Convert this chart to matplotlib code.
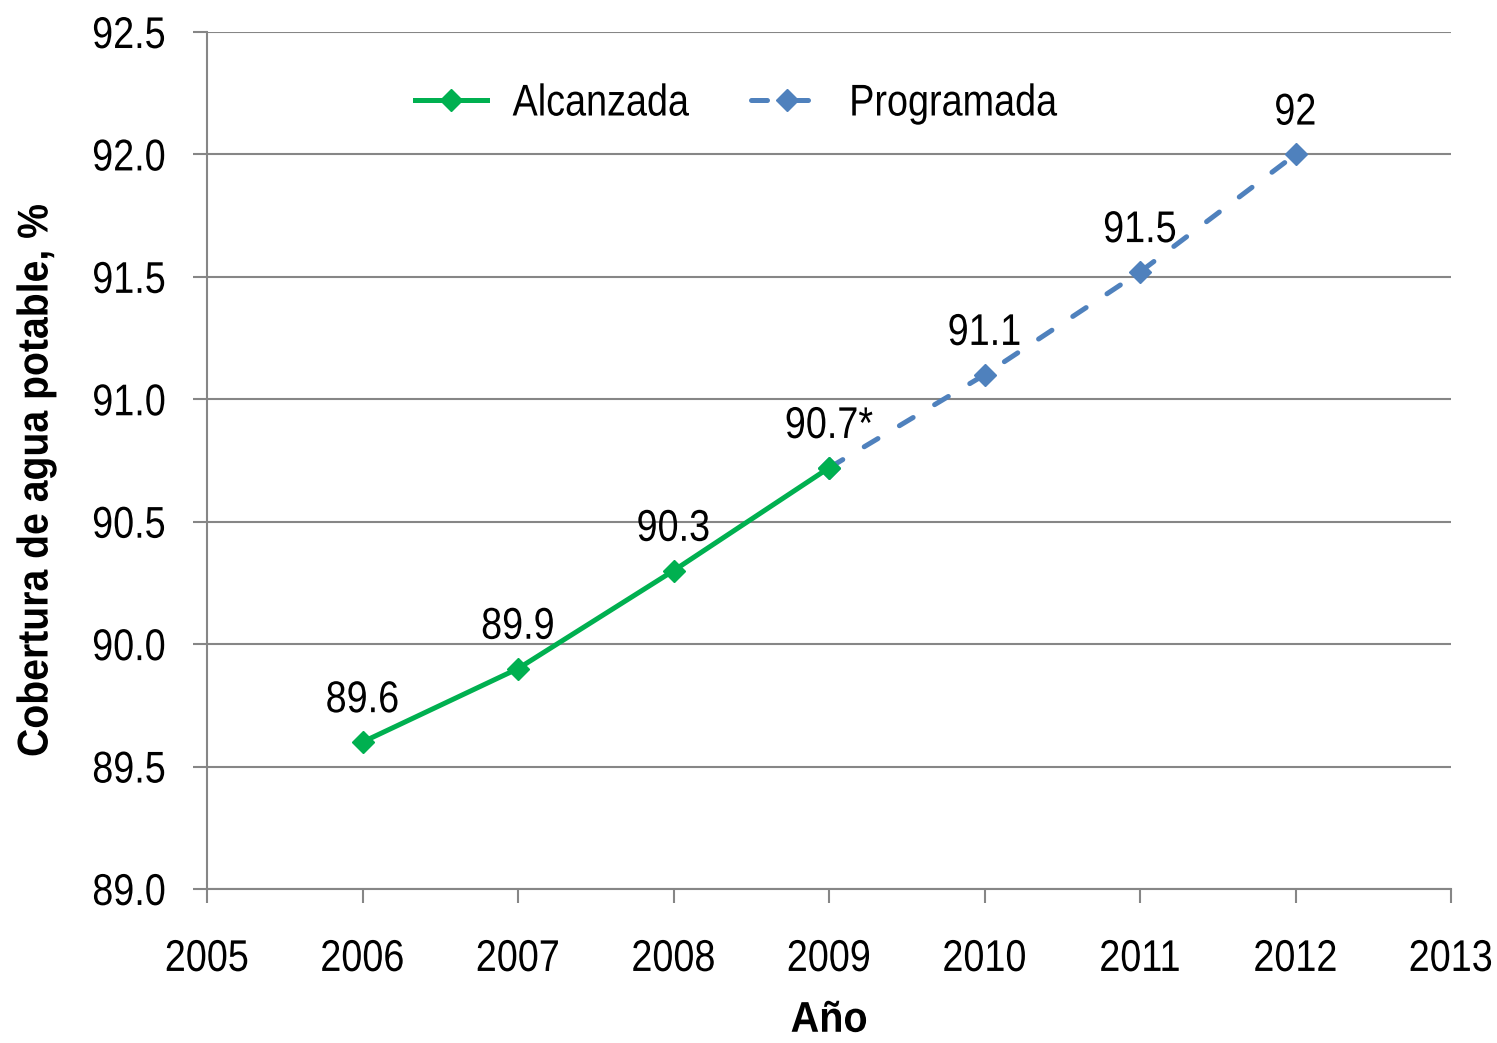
import matplotlib
matplotlib.use("Agg")
import matplotlib.pyplot as plt
import matplotlib.patheffects as pe
from matplotlib.transforms import Affine2D, ScaledTranslation

plt.rcParams['font.family'] = ['Liberation Sans', 'DejaVu Sans']

years_alc = [2006, 2007, 2008, 2009]
vals_alc = [89.6, 89.9, 90.3, 90.72]
labels_alc = ["89.6", "89.9", "90.3", "90.7*"]

years_prog = [2009, 2010, 2011, 2012]
vals_prog = [90.72, 91.1, 91.52, 92.0]
labels_prog = ["", "91.1", "91.5", "92"]

yticks = [89.0, 89.5, 90.0, 90.5, 91.0, 91.5, 92.0, 92.5]
xticks = list(range(2005, 2014))

green = "#00B050"
blue = "#4F81BD"
gray = "#868686"


class Narrow(pe.AbstractPathEffect):
    # squeeze glyphs sideways, the original uses a narrow font
    def __init__(self, sx=0.85, anchor="center"):
        super().__init__()
        self.sx = sx
        self.anchor = anchor

    def draw_path(self, renderer, gc, tpath, affine, rgbFace=None):
        xs = tpath.vertices[:, 0]
        if len(xs) == 0:
            return
        if self.anchor == "left":
            x0 = 0.0
        elif self.anchor == "right":
            x0 = xs.max()
        else:
            x0 = (xs.min() + xs.max()) / 2
        t = Affine2D().translate(-x0, 0).scale(self.sx, 1).translate(x0, 0)
        renderer.draw_path(gc, tpath, t + affine, rgbFace)


fs = 32

fig = plt.figure(figsize=(14.97, 10.43), dpi=100)
ax = fig.add_axes([0.1383, 0.1477, 0.831, 0.8216])

ax.plot(years_prog, vals_prog, color=blue, lw=3.6, ls=(0, (3.2, 5)),
        marker="D", ms=11, mfc=blue, mec=blue, label="Programada",
        dash_capstyle="round", zorder=3)
ax.plot(years_alc, vals_alc, color=green, lw=3.6, marker="D", ms=11,
        mfc=green, mec=green, label="Alcanzada", zorder=4)

for x, y, t in zip(years_alc + years_prog, vals_alc + vals_prog,
                   labels_alc + labels_prog):
    if t:
        ax.annotate(t, (x, y), xytext=(0, 21.5), textcoords="offset points",
                    ha="center", va="baseline", fontsize=fs,
                    path_effects=[Narrow()])

ax.set_xlim(2005, 2013)
ax.set_ylim(89.0, 92.5)
ax.set_xticks(xticks)
ax.set_yticks(yticks)
ax.set_yticklabels([f"{v:.1f}" for v in yticks])
ax.yaxis.grid(True, color=gray, lw=1.5)
ax.set_axisbelow(True)

for s in ("top", "right"):
    ax.spines[s].set_visible(False)
for s in ("left", "bottom"):
    ax.spines[s].set_color(gray)
    ax.spines[s].set_linewidth(1.5)

ax.tick_params(axis="both", direction="out", length=10, width=1.5,
               color=gray, labelsize=fs)
ax.tick_params(axis="x", pad=26)
ax.tick_params(axis="y", pad=19.5)
xlabs = ax.get_xticklabels()
for lab in xlabs:
    lab.set_path_effects([Narrow()])
# last label sits at the right edge: anchor it by its right side
last = xlabs[-1]
last.set_ha("right")
last.set_path_effects([Narrow(anchor="right")])
last.set_transform(last.get_transform() +
                   ScaledTranslation(0.42, 0, fig.dpi_scale_trans))
for lab in ax.get_yticklabels():
    lab.set_path_effects([Narrow(anchor="right")])

ax.set_xlabel("Año", fontsize=31, fontweight="bold", labelpad=15,
              path_effects=[Narrow(0.92)])
ax.set_ylabel("Cobertura de agua potable, %", fontsize=31,
              fontweight="bold", path_effects=[Narrow(0.91)])
ax.yaxis.set_label_coords(-0.121, 0.476)

h, l = ax.get_legend_handles_labels()
leg = ax.legend(h[::-1], l[::-1], loc="center left",
                bbox_to_anchor=(0.167, 0.916), ncol=2, frameon=False,
                fontsize=fs, handlelength=1.62, columnspacing=0.7,
                handletextpad=0.58, borderpad=0, borderaxespad=0)
for t in leg.get_texts():
    t.set_path_effects([Narrow(anchor="left")])

fig.savefig("out.png", dpi=100)
